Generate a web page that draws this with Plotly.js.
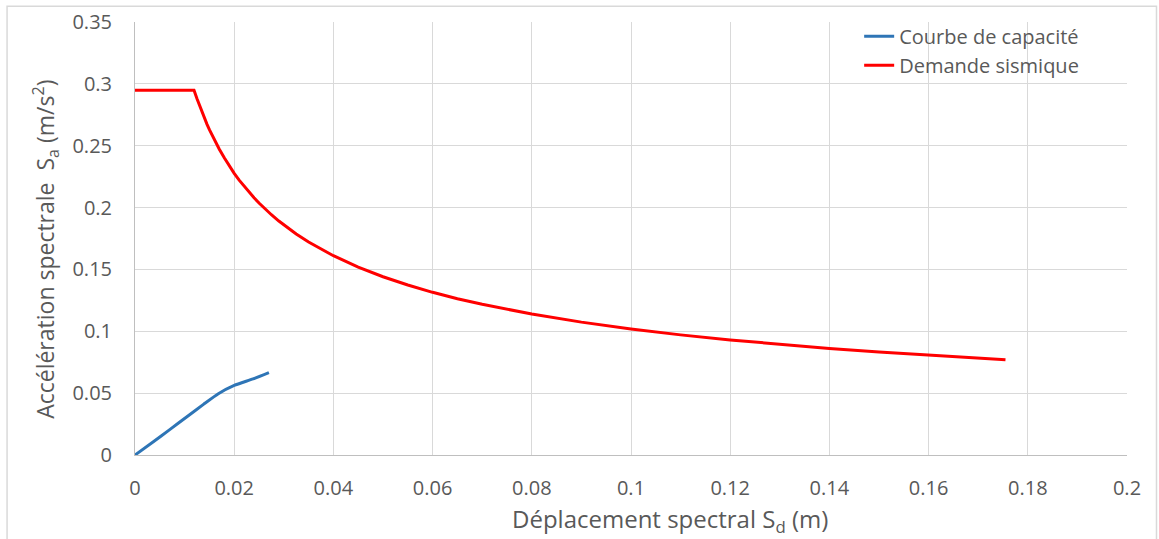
<!DOCTYPE html>
<html>
<head>
<meta charset="utf-8">
<script src="https://cdn.plot.ly/plotly-3.0.1.min.js"></script>
<style>
html,body{margin:0;padding:0;background:#fff;}
#chart{width:1159px;height:539px;}
</style>
</head>
<body>
<div id="chart"></div>
<script>
// Capacity curve (Courbe de capacité)
const capSd = [0, 0.0037, 0.0070, 0.0104, 0.0138, 0.0168, 0.0200, 0.0238, 0.0270];
const capSa = [0, 0.0107, 0.0205, 0.0307, 0.0409, 0.0495, 0.0562, 0.0615, 0.0666];

// Seismic demand (Demande sismique)
const demSd = [0, 0.0119, 0.0125, 0.013, 0.0135, 0.014, 0.0145, 0.015, 0.0155, 0.016, 0.017, 0.018, 0.019, 0.020, 0.021, 0.0225, 0.024, 0.025, 0.0265, 0.0275, 0.029, 0.030, 0.0325, 0.035, 0.0375, 0.040, 0.045, 0.050, 0.055, 0.060, 0.065, 0.070, 0.080, 0.090, 0.100, 0.110, 0.120, 0.130, 0.140, 0.150, 0.160, 0.170, 0.1755];
const demSa = [0.2948, 0.2948, 0.2880, 0.2825, 0.2772, 0.2722, 0.2675, 0.2630, 0.2588, 0.2548, 0.2472, 0.2402, 0.2338, 0.2277, 0.2222, 0.2147, 0.2079, 0.2037, 0.1979, 0.1942, 0.1891, 0.1860, 0.1787, 0.1722, 0.1664, 0.1611, 0.1519, 0.1441, 0.1374, 0.1315, 0.1263, 0.1218, 0.1139, 0.1074, 0.1019, 0.0971, 0.0930, 0.0893, 0.0861, 0.0832, 0.0805, 0.0781, 0.0769];

const xTicks = [0, 0.02, 0.04, 0.06, 0.08, 0.1, 0.12, 0.14, 0.16, 0.18, 0.2];
const xTickText = ['0', '0.02', '0.04', '0.06', '0.08', '0.1', '0.12', '0.14', '0.16', '0.18', '0.2'];
const yTicks = [0, 0.05, 0.1, 0.15, 0.2, 0.25, 0.3, 0.35];
const yTickText = ['0', '0.05', '0.1', '0.15', '0.2', '0.25', '0.3', '0.35'];

const FONT = 'Open Sans, sans-serif';
const GREY = '#595959';

const traces = [
  {x: capSd, y: capSa, name: 'Courbe de capacité', mode: 'lines', type: 'scatter',
   line: {color: '#2E75B6', width: 3, shape: 'spline', smoothing: 0.6}},
  {x: demSd, y: demSa, name: 'Demande sismique', mode: 'lines', type: 'scatter',
   line: {color: '#FF0000', width: 3}}
];

const layout = {
  width: 1159, height: 539,
  margin: {l: 135, r: 31.5, t: 22.4, b: 84},
  paper_bgcolor: '#fff', plot_bgcolor: '#fff',
  font: {family: FONT, color: GREY, size: 20},
  showlegend: true,
  legend: {x: 0.73, y: 1.012, xanchor: 'left', yanchor: 'top', bgcolor: 'rgba(0,0,0,0)',
           font: {family: FONT, size: 20, color: GREY}, tracegroupgap: 0},
  xaxis: {range: [0, 0.2], tickvals: xTicks, ticktext: xTickText, showgrid: true,
          gridcolor: '#d9d9d9', gridwidth: 1, zeroline: false, showline: true,
          linecolor: '#bfbfbf', linewidth: 1, ticks: '', ticklabelstandoff: 15,
          tickfont: {family: FONT, size: 20, color: GREY}, fixedrange: true},
  yaxis: {range: [0, 0.35], tickvals: yTicks, ticktext: yTickText, showgrid: true,
          gridcolor: '#d9d9d9', gridwidth: 1, zeroline: false, showline: true,
          linecolor: '#bfbfbf', linewidth: 1, ticks: '', ticklabelstandoff: 18,
          tickfont: {family: FONT, size: 20, color: GREY}, fixedrange: true},
  annotations: [
    {text: 'Déplacement spectral S<sub>d</sub> (m)', xref: 'paper', yref: 'paper',
     x: (670 - 135) / 992.5, y: (455 - 520) / 432.6, xanchor: 'center', yanchor: 'middle',
     showarrow: false, font: {family: FONT, size: 24, color: GREY}},
    {text: 'Accélération spectrale  S<sub>a</sub> (m/s<sup>2</sup>)', xref: 'paper', yref: 'paper',
     x: (45 - 135) / 992.5, y: (455 - 250) / 432.6, xanchor: 'center', yanchor: 'middle',
     textangle: -90, showarrow: false, font: {family: FONT, size: 23, color: GREY}}
  ],
  shapes: [
    {type: 'rect', xref: 'paper', yref: 'paper', layer: 'below',
     x0: (7 - 135) / 992.5, x1: (1157 - 135) / 992.5,
     y0: (455 - 560) / 432.6, y1: (455 - 6.7) / 432.6,
     line: {color: '#d9d9d9', width: 1.5}, fillcolor: 'rgba(0,0,0,0)'}
  ]
};

Plotly.newPlot('chart', traces, layout, {displayModeBar: false, staticPlot: true});
</script>
</body>
</html>
